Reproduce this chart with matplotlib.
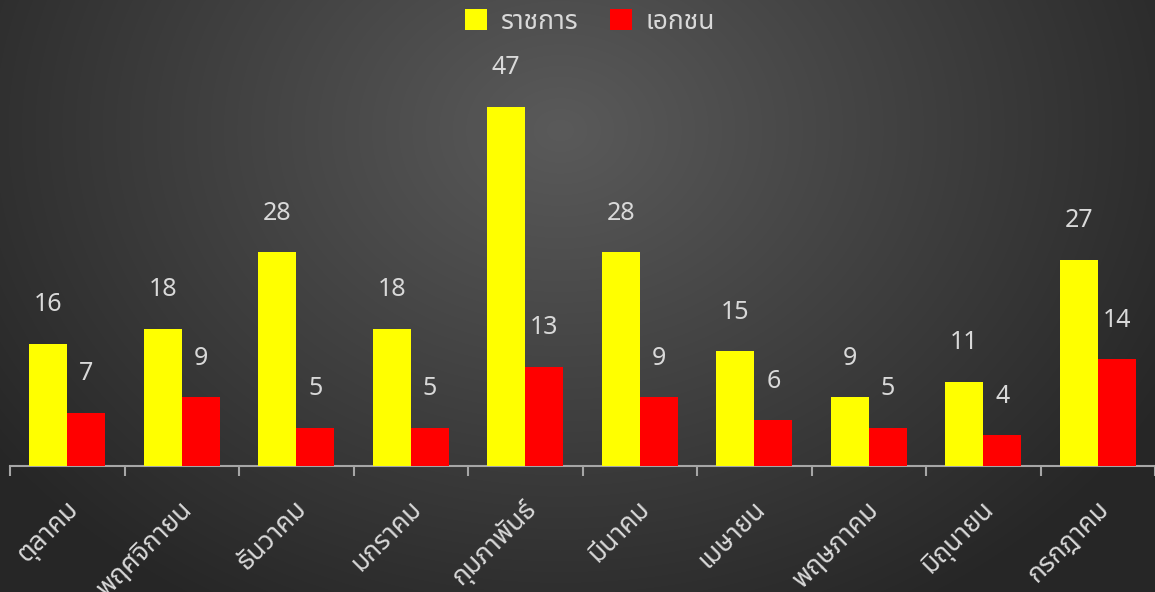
import numpy as np
import matplotlib
matplotlib.use("Agg")
import matplotlib.pyplot as plt
import matplotlib.transforms as mtransforms
from matplotlib import font_manager
from matplotlib.ft2font import FT2Font

categories = ["ตุลาคม", "พฤศจิกายน", "ธันวาคม", "มกราคม", "กุมภาพันธ์",
              "มีนาคม", "เมษายน", "พฤษภาคม", "มิถุนายน", "กรกฎาคม"]
government = [16, 18, 28, 18, 47, 28, 15, 9, 11, 27]
private = [7, 9, 5, 5, 13, 9, 6, 5, 4, 14]
series_names = ["ราชการ", "เอกชน"]

# find a font family that has Thai glyphs
thai_fams = []
for f in font_manager.fontManager.ttflist:
    try:
        if 0x0E01 in FT2Font(f.fname).get_charmap():
            thai_fams.append(f.name)
    except Exception:
        pass
pref = None
for cand in ["Noto Sans Thai", "Noto Sans Thai UI", "Loma", "Garuda", "Tahoma", "Leelawadee UI"]:
    if cand in thai_fams:
        pref = cand
        break
if pref is None and thai_fams:
    pref = thai_fams[0]
fams = ([pref] if pref else []) + ["DejaVu Sans"]
plt.rcParams['font.family'] = fams

W, H = 1155, 592
fig = plt.figure(figsize=(W / 100, H / 100), dpi=100)

# radial gradient background
bg = fig.add_axes([0, 0, 1, 1], zorder=-10)
yy, xx = np.mgrid[0:H, 0:W]
r = np.sqrt(((xx - 560) / 700.0) ** 2 + ((yy - 130) / 560.0) ** 2)
r = np.clip(r, 0, 1)
inner, outer = 0x5a, 0x26
val = (inner + (outer - inner) * r) / 255.0
img = np.dstack([val, val, val])
bg.imshow(img, aspect='auto', extent=[0, 1, 0, 1], origin='upper')
bg.axis('off')

px_per_unit = 359 / 47.0
ymax = 55
ax_h = ymax * px_per_unit
ax = fig.add_axes([10 / W, (H - 466) / H, 1145 / W, ax_h / H])
ax.patch.set_alpha(0)

x = np.arange(len(categories))
bw = 0.333
b1 = ax.bar(x - bw / 2, government, bw, color="#ffff00", label=series_names[0], zorder=3)
b2 = ax.bar(x + bw / 2, private, bw, color="#ff0000", label=series_names[1], zorder=3)

lab_col = "#d9d9d9"
for rects, vals in ((b1, government), (b2, private)):
    for rc, v in zip(rects, vals):
        ax.annotate(str(v), (rc.get_x() + rc.get_width() / 2, v),
                    xytext=(0, 39), textcoords='offset pixels',
                    ha='center', va='center', fontsize=18, color=lab_col)

ax.set_xlim(-0.5, len(categories) - 0.5)
ax.set_ylim(0, ymax)
ax.set_yticks([])
for s in ['top', 'right', 'left']:
    ax.spines[s].set_visible(False)
ax.spines['bottom'].set_color("#a6a6a6")
ax.spines['bottom'].set_linewidth(1.5)

ax.set_xticks(x)
ax.set_xticklabels(categories, rotation=45, ha='right', rotation_mode='anchor',
                   fontsize=19, color=lab_col)
ax.tick_params(axis='x', which='major', length=0, pad=21)
off = mtransforms.ScaledTranslation(-3 / 100, 0, fig.dpi_scale_trans)
for lbl in ax.get_xticklabels():
    lbl.set_transform(lbl.get_transform() + off)
ax.set_xticks(np.arange(len(categories) + 1) - 0.5, minor=True)
ax.tick_params(axis='x', which='minor', length=7, width=1.5, color="#a6a6a6")

leg = fig.legend(handles=[b1, b2], labels=series_names, loc='center',
                 bbox_to_anchor=(590 / W, 1 - 22 / H), ncol=2, frameon=False,
                 fontsize=19, handlelength=0.85, handleheight=0.85,
                 columnspacing=1.2, handletextpad=0.5)
for t in leg.get_texts():
    t.set_color(lab_col)

fig.savefig("out.png", dpi=100)
